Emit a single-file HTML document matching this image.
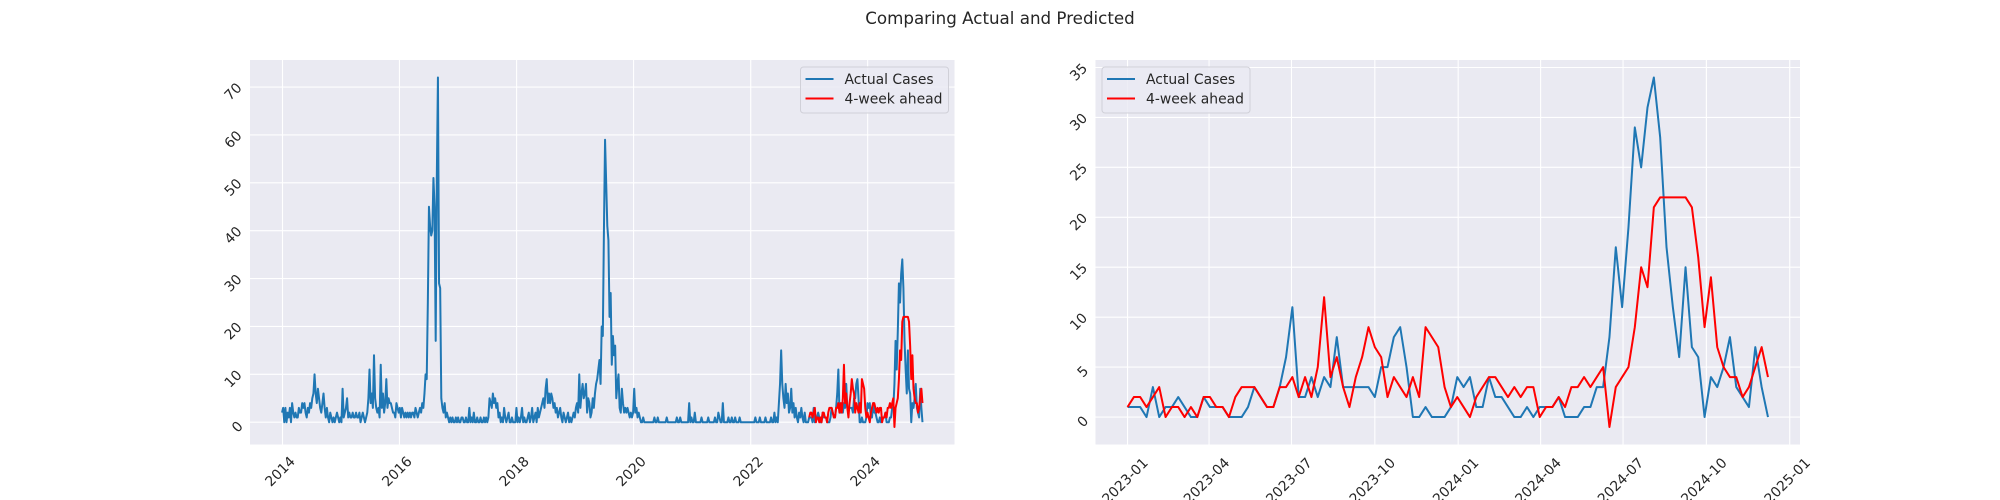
<!DOCTYPE html>
<html><head><meta charset="utf-8"><title>Comparing Actual and Predicted</title>
<style>
html,body{margin:0;padding:0;background:#fff;}
svg{display:block;font-family:"DejaVu Sans","Liberation Sans",sans-serif;}
</style></head>
<body>
<svg id="fig" width="2000" height="500" viewBox="0 0 2000 500">
<text x="1000" y="24" text-anchor="middle" font-size="16.7" fill="#262626">Comparing Actual and Predicted</text>
</svg>
<script>
// ---- data ----
const y2014 = [2,3,0,3,0,2,1,3,0,4,2,1,2,1,1,3,2,2,4,3,4,2,1,3,2,4,3,5,6,10,6,4,7,5,3,2,4,6,3,1,3,1,0,2,1,0,1,0,1,2,1,0];
const y2015 = [1,0,7,1,2,3,5,1,2,1,1,2,1,1,2,1,1,2,0,1,2,1,0,1,2,5,11,4,6,3,14,5,3,2,3,1,12,3,6,2,4,9,3,5,4,4,3,2,2,1,4,3];
const y2016 = [2,3,1,3,2,1,2,1,2,1,2,1,2,2,1,3,2,1,2,3,2,4,3,6,10,9,25,45,41,39,40,51,45,17,51,72,29,28,5,3,2,4,1,2,1,0,1,0,1,0,0,1];
const y2017 = [0,1,0,0,1,1,0,0,1,0,0,3,0,1,0,2,0,0,1,0,0,1,0,0,1,0,1,0,1,5,4,3,6,4,5,3,4,1,2,0,1,0,3,1,0,1,2,0,0,1,0,0];
const y2018 = [0,3,0,1,0,1,3,0,1,0,0,1,2,0,1,3,0,1,2,0,3,1,2,3,4,5,3,7,9,4,6,4,6,5,3,4,2,3,1,2,3,1,0,2,1,0,1,2,0,1,0,1];
const y2019 = [2,1,3,4,2,10,3,6,8,5,6,8,2,5,4,1,2,5,3,6,8,9,11,13,8,20,18,40,59,50,41,38,22,27,12,18,14,16,5,8,10,3,2,7,4,2,3,2,3,2,1,2];
const y2020 = [1,2,7,2,3,1,2,1,0,0,1,0,0,0,0,0,0,0,0,0,1,0,0,1,0,0,0,0,0,0,0,1,0,0,0,0,0,0,0,0,1,0,0,1,0,0,0,0,0,0,0,4];
const y2021 = [0,1,0,0,2,0,0,0,0,0,1,0,0,0,0,0,1,0,0,0,0,0,1,0,0,2,1,0,0,4,0,0,0,0,1,0,0,1,0,0,1,0,0,0,1,0,0,0,0,0,0,0];
const y2022 = [0,0,0,0,0,0,1,0,0,0,1,0,0,0,0,1,0,0,0,0,1,0,0,2,0,1,0,4,8,15,8,5,3,8,4,6,2,3,7,2,4,1,3,1,0,2,1,3,1,0,2,0,0,0];
const recentActual = [1,1,1,0,3,0,1,1,2,1,0,0,2,1,1,1,0,0,0,1,3,2,1,1,3,6,11,2,2,4,2,4,3,8,3,3,3,3,3,2,5,5,8,9,5,0,0,1,0,0,0,
  1,4,3,4,1,1,4,2,2,1,0,0,1,0,1,1,1,2,0,0,0,1,1,3,3,8,17,11,19,29,25,31,34,28,17,11,6,15,7,6,0,4,3,5,8,3,2,1,7,3,0];
const recentPred = [1,2,2,1,2,3,0,1,1,0,1,0,2,2,1,1,0,2,3,3,3,2,1,1,3,3,4,2,4,2,5,12,4,6,3,1,4,6,9,7,6,2,4,3,2,4,2,9,8,7,3,
  1,2,1,0,2,3,4,4,3,2,3,2,3,3,0,1,1,2,1,3,3,4,3,4,5,-1,3,4,5,9,15,13,21,22,22,22,22,22,21,16,9,14,7,5,4,4,2,3,5,7,4];
const recentStart = "2023-01-01";
const leftYTicks = [0,10,20,30,40,50,60,70];
const rightYTicks = [0,5,10,15,20,25,30,35];
const leftXTicks = ["2014","2016","2018","2020","2022","2024"];
const rightXTicks = ["2023-01","2023-04","2023-07","2023-10","2024-01","2024-04","2024-07","2024-10","2025-01"];
const legendLabels = ["Actual Cases","4-week ahead"];

// ---- build ----
const NS = "http://www.w3.org/2000/svg";
const svg = document.getElementById("fig");
const DAY = 86400000;
function mk(tag, attrs, parent){const e=document.createElementNS(NS,tag);for(const k in attrs)e.setAttribute(k,attrs[k]);(parent||svg).appendChild(e);return e;}
const hist = [].concat(y2014,y2015,y2016,y2017,y2018,y2019,y2020,y2021,y2022);
const t0 = Date.parse(recentStart+"T00:00:00Z");
const histDates = hist.map((v,i)=>t0 - 7*DAY*(hist.length - i));
const recDates = recentActual.map((v,i)=>t0 + 7*DAY*i);
const allDates = histDates.concat(recDates);
const allActual = hist.concat(recentActual);

function drawPanel(cfg){
  const {x0,x1,y0,y1,dates,actual,pred,predDates,yTicks,xTicks,xTickDate,legendX,name} = cfg;
  const g = mk("g",{});
  
  
  const dmin=Math.min(...dates), dmax=Math.max(...dates);
  const pad=(dmax-dmin)*0.05;
  const vals=actual.concat(pred);
  const vmin=Math.min(...vals), vmax=Math.max(...vals), vp=(vmax-vmin)*0.05;
  const sx=d=>x0+(d-(dmin-pad))/((dmax+pad)-(dmin-pad))*(x1-x0);
  const sy=v=>y1-(v-(vmin-vp))/((vmax+vp)-(vmin-vp))*(y1-y0);
  const bg=mk("rect",{x:x0,y:y0,width:x1-x0,height:y1-y0,fill:"#eaeaf2"},g);
  
  
  yTicks.forEach(t=>{
    const y=sy(t);
    const l=mk("line",{x1:x0,x2:x1,y1:y,y2:y,stroke:"#fff","stroke-width":1.1},g);
    
    
    const tx=mk("text",{x:0,y:0,"font-size":13.9,fill:"#262626","text-anchor":"middle","dominant-baseline":"central",transform:`translate(${x0-8-t.toString().length*4.2},${y+5}) rotate(-45)`},g);
    tx.textContent=t;
    
    
  });
  xTicks.forEach(t=>{
    const x=sx(xTickDate(t));
    const l=mk("line",{x1:x,x2:x,y1:y0,y2:y1,stroke:"#fff","stroke-width":1.1},g);
    
    
    const half=t.length*4.4*0.707+5;
    const tx=mk("text",{x:0,y:0,"font-size":13.9,fill:"#262626","text-anchor":"middle","dominant-baseline":"central",transform:`translate(${x-2},${y1+10+half}) rotate(-45)`},g);
    tx.textContent=t;
    
    
  });
  const pa=actual.map((v,i)=>`${sx(dates[i]).toFixed(2)},${sy(v).toFixed(2)}`).join(" ");
  const la=mk("polyline",{points:pa,fill:"none",stroke:"#1f77b4","stroke-width":2,"stroke-linejoin":"round"},g);
  
  
  const pp=pred.map((v,i)=>`${sx(predDates[i]).toFixed(2)},${sy(v).toFixed(2)}`).join(" ");
  const lp=mk("polyline",{points:pp,fill:"none",stroke:"#ff0000","stroke-width":2,"stroke-linejoin":"round"},g);
  
  
  // legend
  const lg=mk("g",{},g);
  
  
  mk("rect",{x:legendX,y:67,width:148,height:46,rx:3,fill:"#eaeaf2","fill-opacity":0.8,stroke:"#d0d0d8"},lg);
  const colors=["#1f77b4","#ff0000"];
  legendLabels.forEach((lab,i)=>{
    const yy=79+i*19.5;
    const ln=mk("line",{x1:legendX+5,x2:legendX+33,y1:yy,y2:yy,stroke:colors[i],"stroke-width":2},lg);
    
    
    const tx=mk("text",{x:legendX+44,y:yy+5,"font-size":13.9,fill:"#262626"},lg);
    tx.textContent=lab;
    
    
  });
}
drawPanel({name:"left-chart",x0:250,x1:954.5,y0:60,y1:444.5,dates:allDates,actual:allActual,pred:recentPred,predDates:recDates,
  yTicks:leftYTicks,xTicks:leftXTicks,xTickDate:t=>Date.parse(t+"-01-01T00:00:00Z"),legendX:800.5});
drawPanel({name:"right-chart",x0:1095.5,x1:1800,y0:60,y1:444.5,dates:recDates,actual:recentActual,pred:recentPred,predDates:recDates,
  yTicks:rightYTicks,xTicks:rightXTicks,xTickDate:t=>Date.parse(t+"-01T00:00:00Z"),legendX:1102});
</script>
</body></html>
